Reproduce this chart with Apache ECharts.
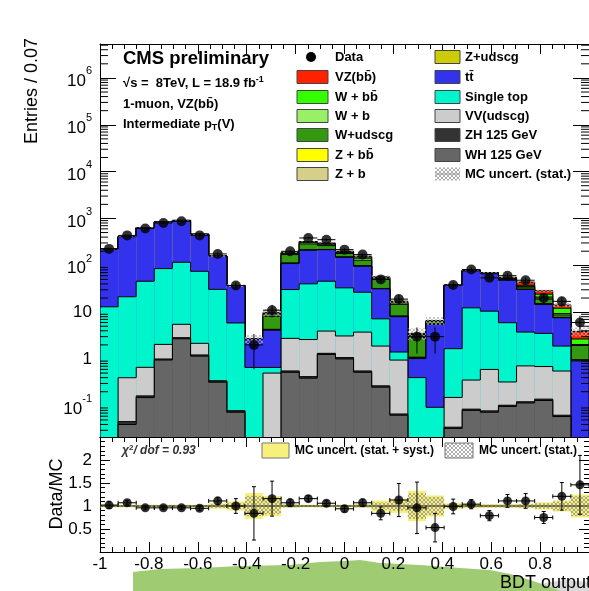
<!DOCTYPE html>
<html>
<head>
<meta charset="utf-8">
<script src="https://cdn.jsdelivr.net/npm/echarts@6/dist/echarts.min.js"></script>
<style>html,body{margin:0;padding:0;background:#fff;}#c{width:589px;height:591px;}</style>
</head>
<body>
<div id="c"></div>
<script>
// ---------------- binning ----------------
const nBins = 27, xLo = -1, xHi = 1;
// ---------------- MC components (per bin, events) ----------------
const WH     = [0, 0.04, 0.15, 0.95, 2.7, 1.15, 0.32, 0.073, 0, 0, 0.52, 0.39, 1.25, 1.0, 0.52, 0.25, 0.063, 0, 0, 0.033, 0.08, 0.073, 0.097, 0.115, 0.13, 0.059, 0];
const ZH     = [0, 0.006, 0.013, 0.05, 0.15, 0.07, 0.02, 0.005, 0, 0, 0.036, 0.03, 0.07, 0.07, 0.036, 0.017, 0.004, 0, 0, 0.002, 0.005, 0.005, 0.006, 0.007, 0.009, 0.004, 0];
const VV     = [0, 0.352, 0.5, 1.05, 2.65, 0.94, 0, 0, 0, 0.5, 2.2, 2.18, 2.62, 2.03, 3.19, 1.62, 0.88, 0, 0, 0.116, 0.27, 0.52, 0.22, 0.59, 0.55, 0.49, 0];
const ST     = [13, 20.9, 45, 83, 110.5, 72.3, 30.3, 5.8, 0.66, 0.16, 27.6, 37.6, 41.8, 29.9, 22.85, 5.31, 0.46, 0.40, 0.093, 1.51, 12.0, 9.9, 5.63, 3.04, 2.83, 1.33, 0];
const TT     = [207, 386, 589, 748, 790, 383.5, 127, 31.1, 2.0, 3.44, 78.6, 169, 170, 115, 68.9, 24.3, 6.6, 0.62, 5.4, 35.3, 63.6, 55.5, 42, 26.65, 11.1, 5.7, 0.91];
const Zudscg = [0, 0, 0, 0, 0, 0, 0, 0, 0, 0.15, 1.5, 2, 1.5, 1, 1, 0.4, 0.15, 0.05, 0.05, 0.1, 0.3, 0.3, 0.3, 0.3, 0.3, 0.1, 0.03];
const Zb     = [0, 0, 0, 0, 0, 0, 0, 0, 0, 0.02, 0.3, 0.4, 0.3, 0.2, 0.2, 0.06, 0.02, 0.01, 0.01, 0.02, 0.05, 0.05, 0.05, 0.05, 0.05, 0.02, 0.01];
const Zbb    = [0, 0, 0, 0, 0, 0, 0, 0, 0, 0.02, 0.3, 0.4, 0.3, 0.2, 0.2, 0.06, 0.02, 0.01, 0.01, 0.02, 0.05, 0.05, 0.05, 0.05, 0.05, 0.02, 0.01];
const Wudscg = [0, 0, 0, 0, 0, 0, 0, 0, 0, 3.8, 58.5, 74, 45.5, 29, 31.5, 17.7, 6.45, 1.78, 0.8, 0.6, 1.5, 1.5, 2.5, 3.5, 4, 1.0, 0.98];
const Wb     = [0, 0, 0, 0, 0, 0, 0, 0, 0, 0.6, 10, 18, 17, 10, 13, 3, 1, 0.25, 0.1, 0.2, 0.5, 0.5, 1.0, 1.2, 2, 0.6, 0.1];
const Wbb    = [0, 0, 0, 0, 0, 0, 0, 0, 0, 0.6, 6, 12, 12, 7, 9, 2, 0.7, 0.2, 0.05, 0.2, 0.5, 0.7, 1.5, 1.9, 3.2, 2.8, 0.63];
const VZ     = [0, 0, 0, 0, 0, 0, 0, 0, 0, 0.6, 3, 6, 7, 4, 6, 2, 0.8, 0.2, 0.1, 0.3, 0.5, 0.8, 2, 6.5, 4.4, 2.1, 1.2];
// ---------------- data ----------------
const dataVals = [224, 435, 610, 800, 870, 435, 175, 37, 2, 11, 199, 383, 352, 216, 169, 50, 19, 3, 3, 38, 81, 54, 60, 48, 20, 17, 6];
const dataErr  = [15, 21, 25, 28, 29.5, 21, 13, 6.1, 1.4, 3.3, 14, 19.6, 18.8, 14.7, 13, 7.1, 4.4, 1.7, 1.7, 6.2, 9, 7.3, 7.7, 6.9, 4.5, 4.1, 2.4];
// ---------------- ratio panel ----------------
const ratioVals = [1.02, 1.07, 0.96, 0.96, 0.96, 0.95, 1.11, 1.0, 0.84, 1.16, 1.07, 1.16, 1.06, 0.94, 1.07, 0.84, 1.13, 0.96, 0.53, 0.99, 1.04, 0.79, 1.11, 1.11, 0.75, 1.21, 1.46];
const ratioErr  = [0.07, 0.05, 0.04, 0.035, 0.035, 0.05, 0.08, 0.16, 0.58, 0.38, 0.08, 0.06, 0.06, 0.07, 0.08, 0.14, 0.36, 0.56, 0.31, 0.16, 0.10, 0.11, 0.14, 0.16, 0.13, 0.30, 0.64];
const systBand  = [0.03, 0.03, 0.03, 0.03, 0.03, 0.03, 0.06, 0.10, 0.28, 0.22, 0.04, 0.03, 0.03, 0.03, 0.04, 0.12, 0.15, 0.33, 0.23, 0.06, 0.05, 0.04, 0.04, 0.05, 0.08, 0.12, 0.25];
const statBand  = [0.02, 0.02, 0.02, 0.02, 0.02, 0.02, 0.04, 0.07, 0.22, 0.18, 0.03, 0.02, 0.02, 0.02, 0.03, 0.08, 0.10, 0.28, 0.20, 0.04, 0.03, 0.03, 0.03, 0.04, 0.06, 0.10, 0.22];
const xTickLabels = ['-1', '-0.8', '-0.6', '-0.4', '-0.2', '0', '0.2', '0.4', '0.6', '0.8', '1'];
const ratioTickLabels = ['0.5', '1', '1.5', '2'];

const yMin = 0.0216, yMax = 5.3e6;
const bw = (xHi - xLo) / nBins;
const edges = Array.from({length: nBins + 1}, (_, k) => xLo + k * bw);
const centers = edges.slice(0, nBins).map(e => e + bw / 2);

const FONT = '"Liberation Sans", Arial, Helvetica, sans-serif';

const layers = [
  {name: 'WH 125 GeV', vals: WH, color: '#666666'},
  {name: 'ZH 125 GeV', vals: ZH, color: '#333333'},
  {name: 'VV(udscg)', vals: VV, color: '#cccccc'},
  {name: 'Single top', vals: ST, color: '#00f5cc'},
  {name: 'tt', vals: TT, color: '#3333ee'},
  {name: 'Z+udscg', vals: Zudscg, color: '#cccc00'},
  {name: 'Z + b', vals: Zb, color: '#d6cf8a'},
  {name: 'Z + bb', vals: Zbb, color: '#ffff00'},
  {name: 'W+udscg', vals: Wudscg, color: '#339911'},
  {name: 'W + b', vals: Wb, color: '#99f066'},
  {name: 'W + bb', vals: Wbb, color: '#33ff00'},
  {name: 'VZ(bb)', vals: VZ, color: '#ff2200'}
];
const running = new Array(nBins).fill(0);
layers.forEach(l => { l.cum = l.vals.map((v, i) => (running[i] += v)); });
const total = running.slice();

function hatchCanvas(color, size) {
  const c = document.createElement('canvas');
  c.width = size; c.height = size;
  const g = c.getContext('2d');
  g.strokeStyle = color; g.lineWidth = 0.7;
  g.beginPath();
  g.moveTo(0, 0); g.lineTo(size, size);
  g.moveTo(size, 0); g.lineTo(0, size);
  g.stroke();
  return c;
}
const hatch = {image: hatchCanvas('#8a8a8a', 4), repeat: 'repeat'};
const hatchLight = {image: hatchCanvas('#b0b0b0', 4), repeat: 'repeat'};

// ---- stacked step layers (drawn top-down, each from the axis floor) ----
function layerSeries(layer) {
  const cum = layer.cum;
  return {
    type: 'custom', name: layer.name, xAxisIndex: 0, yAxisIndex: 0, clip: true, silent: true,
    encode: {x: 0, y: 1},
    data: cum.map((c, i) => [centers[i], Math.max(c, yMin)]),
    renderItem(params, api) {
      const i = params.dataIndex;
      const c = cum[i];
      const x0 = edges[i], x1 = edges[i + 1];
      const st = {stroke: '#000', lineWidth: 1};
      const children = [];
      const bot = api.coord([x0, yMin]);
      if (c > yMin) {
        const tp = api.coord([x1, c]);
        children.push({type: 'rect', shape: {x: bot[0], y: tp[1], width: tp[0] - bot[0], height: bot[1] - tp[1]}, style: {fill: layer.color}});
        children.push({type: 'line', shape: {x1: bot[0], y1: tp[1], x2: tp[0], y2: tp[1]}, style: st});
      }
      const prev = i > 0 ? cum[i - 1] : 0;
      const a = Math.max(prev, yMin), b = Math.max(c, yMin);
      if (a !== b) {
        const pa = api.coord([x0, a]), pb = api.coord([x0, b]);
        children.push({type: 'line', shape: {x1: pa[0], y1: pa[1], x2: pb[0], y2: pb[1]}, style: st});
      }
      if (i === nBins - 1 && c > yMin) {
        const pa = api.coord([x1, yMin]), pb = api.coord([x1, c]);
        children.push({type: 'line', shape: {x1: pa[0], y1: pa[1], x2: pb[0], y2: pb[1]}, style: st});
      }
      return {type: 'group', children};
    }
  };
}

function bandSeries(xi, yi, center, halfRel, fill, relative) {
  return {
    type: 'custom', xAxisIndex: xi, yAxisIndex: yi, clip: true, silent: true,
    encode: {x: 0, y: 1},
    data: center.map((c, i) => [centers[i], c]),
    renderItem(params, api) {
      const i = params.dataIndex;
      const c = center[i], h = halfRel[i];
      if (!(c > 0)) return null;
      const lo = relative ? Math.max(c * (1 - h), yMin) : c - h;
      const hi = relative ? c * (1 + h) : c + h;
      const p0 = api.coord([edges[i], lo]), p1 = api.coord([edges[i + 1], hi]);
      return {type: 'rect', shape: {x: p0[0], y: p1[1], width: p1[0] - p0[0], height: p0[1] - p1[1]}, style: {fill}};
    }
  };
}

function errSeries(xi, yi, vals, errs, floor, size) {
  return {
    type: 'custom', xAxisIndex: xi, yAxisIndex: yi, clip: true, silent: true,
    encode: {x: 0, y: 1},
    data: vals.map((v, i) => [centers[i], v]),
    renderItem(params, api) {
      const i = params.dataIndex;
      const v = vals[i], e = errs[i];
      const lo = Math.max(v - e, floor), hi = v + e;
      const pc = api.coord([centers[i], v]);
      const pl = api.coord([centers[i], lo]), ph = api.coord([centers[i], hi]);
      const xl = api.coord([edges[i], v])[0], xr = api.coord([edges[i + 1], v])[0];
      const st = {stroke: '#000', lineWidth: 1};
      const cap = size;
      const ch = [
        {type: 'line', shape: {x1: pc[0], y1: ph[1], x2: pc[0], y2: pl[1]}, style: st},
        {type: 'line', shape: {x1: xl, y1: pc[1], x2: xr, y2: pc[1]}, style: st},
        {type: 'line', shape: {x1: pc[0] - cap, y1: ph[1], x2: pc[0] + cap, y2: ph[1]}, style: st},
        {type: 'line', shape: {x1: pc[0] - cap, y1: pl[1], x2: pc[0] + cap, y2: pl[1]}, style: st},
        {type: 'line', shape: {x1: xl, y1: pc[1] - cap, x2: xl, y2: pc[1] + cap}, style: st},
        {type: 'line', shape: {x1: xr, y1: pc[1] - cap, x2: xr, y2: pc[1] + cap}, style: st}
      ];
      return {type: 'group', children: ch};
    }
  };
}

// minor ticks of the log axis (2..9 x 10^k)
const logMinor = [];
for (let k = -2; k <= 6; k++) for (let m = 2; m <= 9; m++) {
  const v = m * Math.pow(10, k);
  if (v > yMin && v < yMax) logMinor.push(v);
}
const minorTickSeries = {
  type: 'custom', xAxisIndex: 0, yAxisIndex: 0, clip: false, silent: true,
  encode: {x: 0, y: 1},
  data: logMinor.map(v => [xLo, v]),
  renderItem(params, api) {
    const v = logMinor[params.dataIndex];
    const pl = api.coord([xLo, v]), pr = api.coord([xHi, v]);
    const st = {stroke: '#000', lineWidth: 1};
    return {type: 'group', children: [
      {type: 'line', shape: {x1: pl[0], y1: pl[1], x2: pl[0] + 8, y2: pl[1]}, style: st},
      {type: 'line', shape: {x1: pr[0], y1: pr[1], x2: pr[0] - 8, y2: pr[1]}, style: st}
    ]};
  }
};

const axLine = {show: true, onZero: false, lineStyle: {color: '#000', width: 1}};
function xAx(grid, pos, showLabels) {
  return {
    type: 'value', gridIndex: grid, position: pos, min: xLo, max: xHi, interval: 0.2,
    axisLine: axLine, splitLine: {show: false},
    axisTick: {show: true, inside: true, length: 10, lineStyle: {color: '#000'}},
    minorTick: {show: true, splitNumber: 4, length: 5, lineStyle: {color: '#000'}},
    axisLabel: {show: showLabels, fontFamily: FONT, fontSize: 17, color: '#000', margin: 4, showMaxLabel: false,
      formatter: v => xTickLabels[Math.round((v - xLo) / 0.2)] || ''}
  };
}
function logLabel(v) {
  const e = Math.round(Math.log10(v));
  if (e === 0) return '{b|1}';
  if (e === 1) return '{b|10}';
  return '{p|10}{s|' + e + '}';
}

const series = [];
layers.slice().reverse().forEach(l => series.push(layerSeries(l)));
series.push(bandSeries(0, 0, total, statBand, hatchLight, true));
series.push(minorTickSeries);
series.push(errSeries(0, 0, dataVals, dataErr, yMin, 0));
series.push({type: 'scatter', xAxisIndex: 0, yAxisIndex: 0, symbol: 'circle', symbolSize: 10, silent: true,
  itemStyle: {color: '#000'}, data: dataVals.map((v, i) => [centers[i], v]), z: 5});
// ratio panel
series.push(bandSeries(2, 2, new Array(nBins).fill(1), systBand, '#f8f07c', false));
series.push(bandSeries(2, 2, new Array(nBins).fill(1), statBand, hatch, false));
series.push({type: 'line', xAxisIndex: 2, yAxisIndex: 2, data: [[xLo, 1], [xHi, 1]], symbol: 'none', silent: true,
  lineStyle: {color: '#222', width: 1}});
series.push(errSeries(2, 2, ratioVals, ratioErr, 0, 2));
series.push({type: 'scatter', xAxisIndex: 2, yAxisIndex: 2, symbol: 'circle', symbolSize: 9, silent: true,
  itemStyle: {color: '#000'}, data: ratioVals.map((v, i) => [centers[i], v]), z: 5});

// ---------------- graphics (texts, legend) ----------------
const G = [];
function text(x, y, t, size, weight, extra) {
  G.push(Object.assign({type: 'text', x, y, z: 100, style: Object.assign({
    text: t, fill: '#000', fontFamily: FONT, fontSize: size, fontWeight: weight || 'bold',
    align: 'left', verticalAlign: 'middle', textAlign: 'left', textVerticalAlign: 'middle'}, (extra && extra.style) || {})},
    (extra && extra.el) || {}));
}
// green blob at the bottom of the photo
G.push({type: 'polygon', z: -10, silent: true, shape: {points: [[133,591],[133,572],[160,569],[200,568],[240,566],[290,565],[320,562],[345,561],[360,560],[380,563],[420,565],[460,568],[490,570],[510,574],[530,580],[545,585],[560,591]]}, style: {fill: '#9fcc72'}});
G.push({type: 'polygon', z: -11, silent: true, shape: {points: [[535,591],[545,583],[565,580],[589,582],[589,591]]}, style: {fill: '#d9d9d9'}});

text(123, 59, 'CMS preliminary', 18.5, 'bold');
G.push({type: 'text', x: 123, y: 83, z: 100, style: {text: '{a|√s =  8TeV, L = 18.9 fb}{s|-1}', verticalAlign: 'middle', textVerticalAlign: 'middle',
  rich: {a: {fontFamily: FONT, fontSize: 13, fontWeight: 'bold', fill: '#000', lineHeight: 16}, s: {fontFamily: FONT, fontSize: 9, fontWeight: 'bold', fill: '#000', verticalAlign: 'top', lineHeight: 9}}}});
text(123, 104, '1-muon, VZ(bb\u0304)', 13, 'bold');
G.push({type: 'text', x: 123, y: 124, z: 100, style: {text: '{a|Intermediate p}{t|T}{a|(V)}', verticalAlign: 'middle', textVerticalAlign: 'middle',
  rich: {a: {fontFamily: FONT, fontSize: 13, fontWeight: 'bold', fill: '#000', lineHeight: 16}, t: {fontFamily: FONT, fontSize: 9, fontWeight: 'bold', fill: '#000', verticalAlign: 'bottom', lineHeight: 9}}}});

// y titles
text(32, 91, 'Entries / 0.07', 18, 'normal', {style: {align: 'center', textAlign: 'center'}, el: {rotation: Math.PI / 2}});
text(57, 494, 'Data/MC', 18, 'normal', {style: {align: 'center', textAlign: 'center'}, el: {rotation: Math.PI / 2}});
text(500, 583, 'BDT output', 18, 'normal');

// legend
const rows = [57, 77, 97, 116, 135, 155, 174];
const leftEntries = [null, 'VZ(bb)', 'W + bb', 'W + b', 'W+udscg', 'Z + bb', 'Z + b'];
const leftLabels = ['Data', 'VZ(bb\u0304)', 'W + bb\u0304', 'W + b', 'W+udscg', 'Z + bb\u0304', 'Z + b'];
const rightEntries = ['Z+udscg', 'tt', 'Single top', 'VV(udscg)', 'ZH 125 GeV', 'WH 125 GeV', null];
const rightLabels = ['Z+udscg', 'tt\u0304', 'Single top', 'VV(udscg)', 'ZH 125 GeV', 'WH 125 GeV', 'MC uncert. (stat.)'];
const colorOf = n => layers.find(l => l.name === n).color;
rows.forEach((y, r) => {
  if (leftEntries[r]) {
    G.push({type: 'rect', z: 100, shape: {x: 297, y: y - 6.5, width: 31, height: 13}, style: {fill: colorOf(leftEntries[r]), stroke: '#444', lineWidth: 1}});
  } else {
    G.push({type: 'circle', z: 100, shape: {cx: 311, cy: y, r: 5}, style: {fill: '#000'}});
  }
  text(335, y, leftLabels[r], 13, 'bold');
  if (rightEntries[r]) {
    G.push({type: 'rect', z: 100, shape: {x: 435, y: y - 6.5, width: 25, height: 13}, style: {fill: colorOf(rightEntries[r]), stroke: '#444', lineWidth: 1}});
  } else {
    G.push({type: 'rect', z: 100, shape: {x: 435, y: y - 6.5, width: 25, height: 13}, style: {fill: hatch}});
    G.push({type: 'line', z: 100, shape: {x1: 435, y1: y, x2: 460, y2: y}, style: {stroke: '#999', lineWidth: 1}});
  }
  text(465, y, rightLabels[r], 13, 'bold');
});
// ratio legend
G.push({type: 'text', x: 122, y: 451, z: 100, style: {text: '{a|χ}{s|2}{a|/ dof = 0.93}', verticalAlign: 'middle', textVerticalAlign: 'middle',
  rich: {a: {fontFamily: FONT, fontSize: 12, fontWeight: 'bold', fontStyle: 'italic', fill: '#333', lineHeight: 14}, s: {fontFamily: FONT, fontSize: 8, fontWeight: 'bold', fill: '#333', verticalAlign: 'top', lineHeight: 8}}}});
G.push({type: 'rect', z: 100, shape: {x: 262, y: 443, width: 27, height: 15}, style: {fill: '#f8f07c', stroke: '#777', lineWidth: 1}});
text(295, 451, 'MC uncert. (stat. + syst.)', 12, 'bold');
G.push({type: 'rect', z: 100, shape: {x: 445, y: 443, width: 28, height: 15}, style: {fill: hatch, stroke: '#777', lineWidth: 1}});
text(479, 451, 'MC uncert. (stat.)', 12, 'bold');

const option = {
  animation: false,
  backgroundColor: '#fff',
  grid: [
    {left: 100, top: 44, width: 489, height: 393, containLabel: false, outerBoundsMode: 'none'},
    {left: 100, top: 437, width: 489, height: 115, containLabel: false, outerBoundsMode: 'none'}
  ],
  xAxis: [xAx(0, 'bottom', false), xAx(0, 'top', false), xAx(1, 'bottom', true), xAx(1, 'top', false)],
  yAxis: [
    {type: 'log', logBase: 10, gridIndex: 0, position: 'left', min: yMin, max: yMax, splitNumber: 10,
      axisLine: axLine, splitLine: {show: false},
      axisTick: {show: true, inside: true, length: 16, lineStyle: {color: '#000'}},
      axisLabel: {show: true, showMinLabel: false, showMaxLabel: false, margin: 8, formatter: logLabel,
        rich: {
          b: {fontFamily: FONT, fontSize: 17, color: '#000', lineHeight: 20},
          p: {fontFamily: FONT, fontSize: 17, color: '#000', lineHeight: 20, verticalAlign: 'bottom'},
          s: {fontFamily: FONT, fontSize: 11, color: '#000', verticalAlign: 'top', lineHeight: 24}
        }}},
    {type: 'log', logBase: 10, gridIndex: 0, position: 'right', min: yMin, max: yMax, splitNumber: 10,
      axisLine: axLine, splitLine: {show: false},
      axisTick: {show: true, inside: true, length: 16, lineStyle: {color: '#000'}},
      axisLabel: {show: false}},
    {type: 'value', gridIndex: 1, position: 'left', min: 0, max: 2.5, interval: 0.5,
      axisLine: axLine, splitLine: {show: false},
      axisTick: {show: true, inside: true, length: 10, lineStyle: {color: '#000'}},
      minorTick: {show: true, splitNumber: 5, length: 5, lineStyle: {color: '#000'}},
      axisLabel: {show: true, fontFamily: FONT, fontSize: 17, color: '#000', margin: 8,
        formatter: v => ratioTickLabels[Math.round(v / 0.5) - 1] || ''}},
    {type: 'value', gridIndex: 1, position: 'right', min: 0, max: 2.5, interval: 0.5,
      axisLine: axLine, splitLine: {show: false},
      axisTick: {show: true, inside: true, length: 10, lineStyle: {color: '#000'}},
      minorTick: {show: true, splitNumber: 5, length: 5, lineStyle: {color: '#000'}},
      axisLabel: {show: false}}
  ],
  series,
  graphic: G
};
const chart = echarts.init(document.getElementById('c'), null, {renderer: 'canvas'});
chart.setOption(option);
</script>
</body>
</html>
